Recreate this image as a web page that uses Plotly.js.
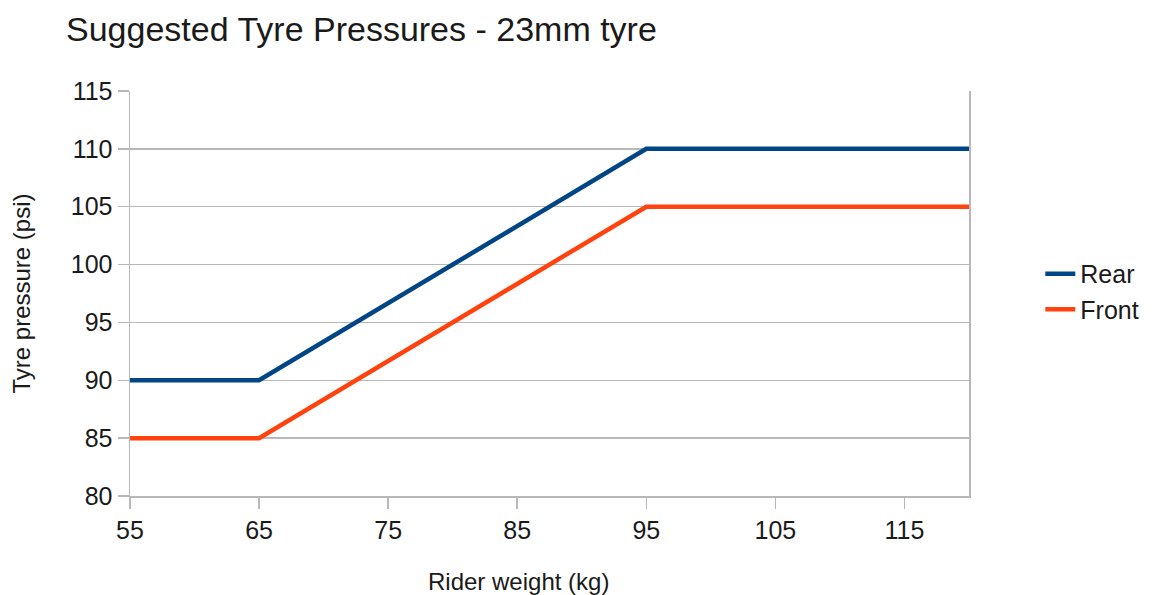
<!DOCTYPE html>
<html>
<head>
<meta charset="utf-8">
<script src="https://cdn.plot.ly/plotly-3.0.1.min.js"></script>
<style>html,body{margin:0;padding:0;background:#fff;}#chart{width:1163px;height:595px;}</style>
</head>
<body>
<div id="chart"></div>
<script>
const riderWeight = [55, 65, 95, 120];
const rearPressure = [90, 90, 110, 110];
const frontPressure = [85, 85, 105, 105];
const seriesNames = ['Rear', 'Front'];
const xTicks = [55, 65, 75, 85, 95, 105, 115];
const yTicks = [80, 85, 90, 95, 100, 105, 110, 115];

const FONT = 'Liberation Sans, Arial, sans-serif';
const GRID = '#b8b8b8';
const TXT = '#1a1a1a';

const traces = [
  {x: riderWeight, y: rearPressure, name: seriesNames[0], mode: 'lines', type: 'scatter',
   line: {color: '#004586', width: 4.5}},
  {x: riderWeight, y: frontPressure, name: seriesNames[1], mode: 'lines', type: 'scatter',
   line: {color: '#ff420e', width: 4.5}}
];

const layout = {
  width: 1163, height: 595,
  margin: {l: 130, r: 194, t: 91, b: 99},
  paper_bgcolor: '#fff', plot_bgcolor: '#fff',
  font: {family: FONT, size: 25, color: TXT},
  title: {text: 'Suggested Tyre Pressures - 23mm tyre', font: {family: FONT, size: 34, color: TXT},
          x: 66/1163, xanchor: 'left', xref: 'container', y: 1 - 29/595, yanchor: 'middle', yref: 'container'},
  xaxis: {range: [55, 120], tickvals: xTicks, ticktext: xTicks.map(String),
          showgrid: false, zeroline: false, showline: true, linecolor: GRID, linewidth: 1.5,
          ticks: 'outside', ticklen: 11, tickcolor: GRID, tickwidth: 1.5,
          tickfont: {family: FONT, size: 25, color: TXT}},
  yaxis: {range: [80, 115], tickvals: yTicks, ticktext: yTicks.map(String),
          showgrid: true, gridcolor: GRID, gridwidth: 1.5, zeroline: false,
          showline: true, mirror: true, linecolor: GRID, linewidth: 1.5,
          ticks: 'outside', ticklen: 11, tickcolor: GRID, tickwidth: 1.5,
          tickfont: {family: FONT, size: 25, color: TXT},
          title: {text: 'Tyre pressure (psi)', font: {family: FONT, size: 24, color: TXT}, standoff: 33}},
  legend: {x: 1.085, xanchor: 'left', y: 0.505, yanchor: 'middle',
           font: {family: FONT, size: 25, color: TXT}, bgcolor: 'rgba(0,0,0,0)', tracegroupgap: 0},
  annotations: [
    {text: 'Rider weight (kg)', xref: 'paper', yref: 'paper', x: (518 - 130) / 839, y: -(581 - 496) / 405,
     xanchor: 'center', yanchor: 'middle', showarrow: false, font: {family: FONT, size: 24, color: TXT}}
  ],
  showlegend: true
};

Plotly.newPlot('chart', traces, layout, {staticPlot: true, displayModeBar: false});
</script>
</body>
</html>
